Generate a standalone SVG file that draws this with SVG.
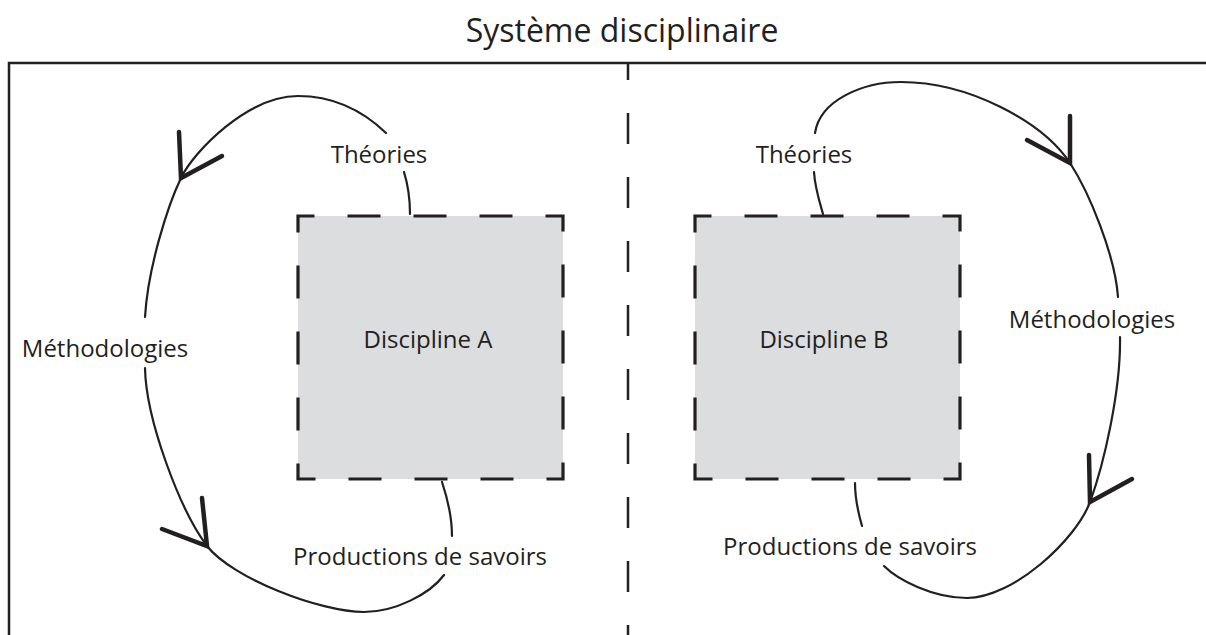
<svg xmlns="http://www.w3.org/2000/svg" width="1206" height="635" viewBox="0 0 1206 635">
  <style>
    .txt { font-family: "Open Sans", "Noto Sans", sans-serif; fill: #231f20; text-anchor: middle; }
    .lbl { font-size: 24px; }
    .title { font-size: 32px; }
    .frame { fill: none; stroke: #231f20; stroke-width: 2.5; }
    .divider { fill: none; stroke: #231f20; stroke-width: 2.5; stroke-dasharray: 31 33; stroke-dashoffset: 14; }
    .box { fill: #dcdddf; stroke: #231f20; stroke-width: 3.2; stroke-dasharray: 33 33; stroke-dashoffset: 16.5; }
    .curve { fill: none; stroke: #231f20; stroke-width: 2.2; stroke-linecap: round; }
    .arrow { fill: none; stroke: #231f20; stroke-width: 4.5; stroke-linecap: round; stroke-linejoin: miter; }
  </style>

  <g id="frame">
    <path class="frame" d="M9,635 V63 H1206"/>
    <line class="divider" x1="628" y1="63" x2="628" y2="635"/>
    <text class="txt title" x="622" y="42">Système disciplinaire</text>
  </g>

  <g id="discipline-a">
    <path class="box" d="M298,216 H563 V479 H298 Z"/>
    <text class="txt lbl" x="428" y="348">Discipline A</text>
  </g>

  <g id="discipline-b">
    <path class="box" d="M695,216 H960 V479 H695 Z"/>
    <text class="txt lbl" x="824" y="348">Discipline B</text>
  </g>

  <g id="labels">
    <text class="txt lbl" x="379" y="163">Théories</text>
    <text class="txt lbl" x="105" y="357">Méthodologies</text>
    <text class="txt lbl" x="420" y="565">Productions de savoirs</text>
    <text class="txt lbl" x="804" y="163">Théories</text>
    <text class="txt lbl" x="1092" y="328">Méthodologies</text>
    <text class="txt lbl" x="850" y="555">Productions de savoirs</text>
  </g>

  <g id="connectors">
    <!-- left cycle -->
    <path class="curve" d="M410,214 C410,198 408,185 404,172"/>
    <path class="curve" d="M386,133 C360,108 330,96 298,96 C248,96 194,151 181,178 C168,205 148,267 145,317"/>
    <path class="curve" d="M145,368 C146,420 180,510 207,546 C232,578 320,612 364,612 C395,612 430,594 444,575"/>
    <path class="curve" d="M442,482 C447,497 452,515 452,536"/>
    <path class="arrow" d="M179,132 L181,178 L222,156"/>
    <path class="arrow" d="M202,498 L207,546 L162,529"/>
    <!-- right cycle -->
    <path class="curve" d="M823,214 C819,200 815,188 814,172"/>
    <path class="curve" d="M815,133 C820,100 863,82 901,82 C968,82 1042,121 1070,163 C1089,192 1115,255 1118,297"/>
    <path class="curve" d="M1120,337 C1121,390 1104,464 1090,502 C1076,540 1013,598 967,598 C933,598 898,580 884,566"/>
    <path class="curve" d="M855,483 C855,500 858,512 862,526"/>
    <path class="arrow" d="M1070,116 L1070,163 L1027,140"/>
    <path class="arrow" d="M1089,455 L1090,502 L1132,479"/>
  </g>
</svg>
